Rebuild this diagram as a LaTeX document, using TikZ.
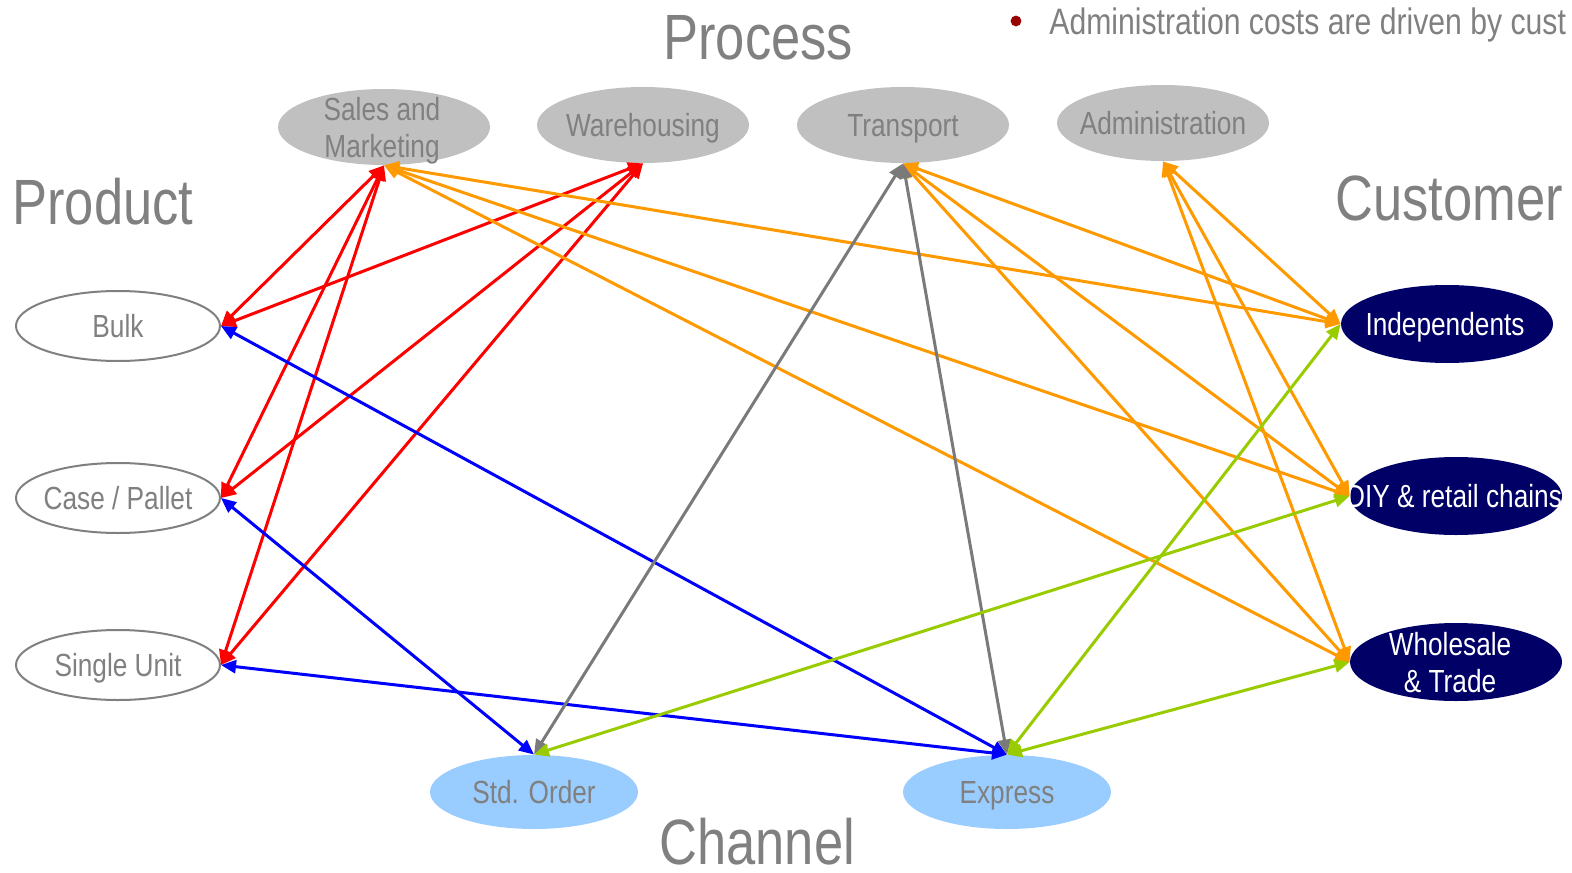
\documentclass[tikz,border=0pt]{standalone}
\usepackage{fontspec}
\setmainfont{Liberation Sans}[FakeStretch=0.82]
\usetikzlibrary{arrows.meta,shapes.geometric}
\definecolor{txtgray}{HTML}{808080}
\definecolor{procfill}{HTML}{C0C0C0}
\definecolor{custfill}{HTML}{000066}
\definecolor{chanfill}{HTML}{99CCFF}
\definecolor{lnred}{HTML}{FF0000}
\definecolor{lnorange}{HTML}{FF9900}
\definecolor{lnblue}{HTML}{0000FF}
\definecolor{lngray}{HTML}{7A7A7A}
\definecolor{lngreen}{HTML}{99CC00}
\definecolor{bulletred}{HTML}{990000}
\begin{document}
\begin{tikzpicture}[x=0.5pt,y=-0.5pt,
  oval/.style={ellipse, inner sep=0pt, minimum width=106pt, minimum height=38pt},
  process/.style={oval, fill=procfill},
  product/.style={oval, draw=txtgray, line width=1pt, fill=white,
    minimum width=102pt, minimum height=35pt},
  customer/.style={oval, fill=custfill, minimum height=39pt},
  channel/.style={oval, fill=chanfill, minimum width=104pt, minimum height=37pt},
  lbl/.style={font=\fontsize{16}{18.5}\selectfont, text=txtgray, align=center,
    text depth=0pt, inner sep=0pt},
  wlbl/.style={lbl, text=white},
  title/.style={font=\fontsize{32}{36}\selectfont, text=txtgray, inner sep=0pt,
    text depth=0pt, anchor=base west},
  link/.style={line width=1.5pt,
    {Triangle[length=7.5pt,width=6.5pt]}-{Triangle[length=7.5pt,width=6.5pt]}},
]
\useasboundingbox (0,0) rectangle (1572,872);
\clip (0,0) rectangle (1572,872);

% headings
\node[title] (hprocess) at (663,60) {Process};
\node[title] (hproduct) at (12,224) {Product};
\node[title] (hcustomer) at (1335,220) {Customer};
\node[title] (hchannel) at (659,864) {Channel};

% bullet note
\fill[bulletred] (1016,21) circle (2.7pt);
\node[font=\fontsize{18.4}{22}\selectfont, text=txtgray, inner sep=0pt,
  anchor=base west] (note) at (1049,35) {Administration costs are driven by cust};

% process activities
\node[process] (sm) at (384,127) {};
\node[process] (wh) at (643,125) {};
\node[process] (tr) at (903,125) {};
\node[process] (ad) at (1163,123) {};
\node[lbl] (smt) at (382,127) {Sales and\\Marketing};
\node[lbl] (wht) at (wh) {Warehousing};
\node[lbl] (trt) at (tr) {Transport};
\node[lbl] (adt) at (ad) {Administration};

% products
\node[product] (bulk) at (118,326) {};
\node[product] (case) at (118,498) {};
\node[product] (single) at (118,665) {};
\node[lbl] (bulkt) at (bulk) {Bulk};
\node[lbl] (caset) at (case) {Case / Pallet};
\node[lbl] (singlet) at (single) {Single Unit};

% customers
\node[customer] (ind) at (1447,324) {};
\node[customer] (diy) at (1456,496) {};
\node[customer] (whs) at (1456,662) {};
\node[wlbl] (indt) at (1445,324) {Independents};
\node[wlbl] (diyt) at (1454,496) {DIY \& retail chains};
\node[wlbl] (whst) at (1450,662) {Wholesale\\\& Trade};

% channels
\node[channel] (std) at (534,792) {};
\node[channel] (exp) at (1007,792) {};
\node[lbl] (stdt) at (std) {Std. Order};
\node[lbl] (expt) at (exp) {Express};

% process to product
\foreach \p in {sm,wh}
  \foreach \q in {bulk,case,single}
    \draw[link, lnred] (\p.south) -- (\q.east);

% process to customer
\foreach \p in {sm,tr,ad}
  \foreach \q in {ind,diy,whs}
    \draw[link, lnorange] (\p.south) -- (\q.west);

% product to channel
\draw[link, lnblue] (bulk.east) -- (exp.north);
\draw[link, lnblue] (case.east) -- (std.north);
\draw[link, lnblue] (single.east) -- (exp.north);

% transport to channel
\draw[link, lngray] (tr.south) -- (std.north);
\draw[link, lngray] (tr.south) -- (exp.north);

% channel to customer
\draw[link, lngreen] (std.north) -- (diy.west);
\draw[link, lngreen] (exp.north) -- (ind.west);
\draw[link, lngreen] (exp.north) -- (whs.west);
\end{tikzpicture}
\end{document}
